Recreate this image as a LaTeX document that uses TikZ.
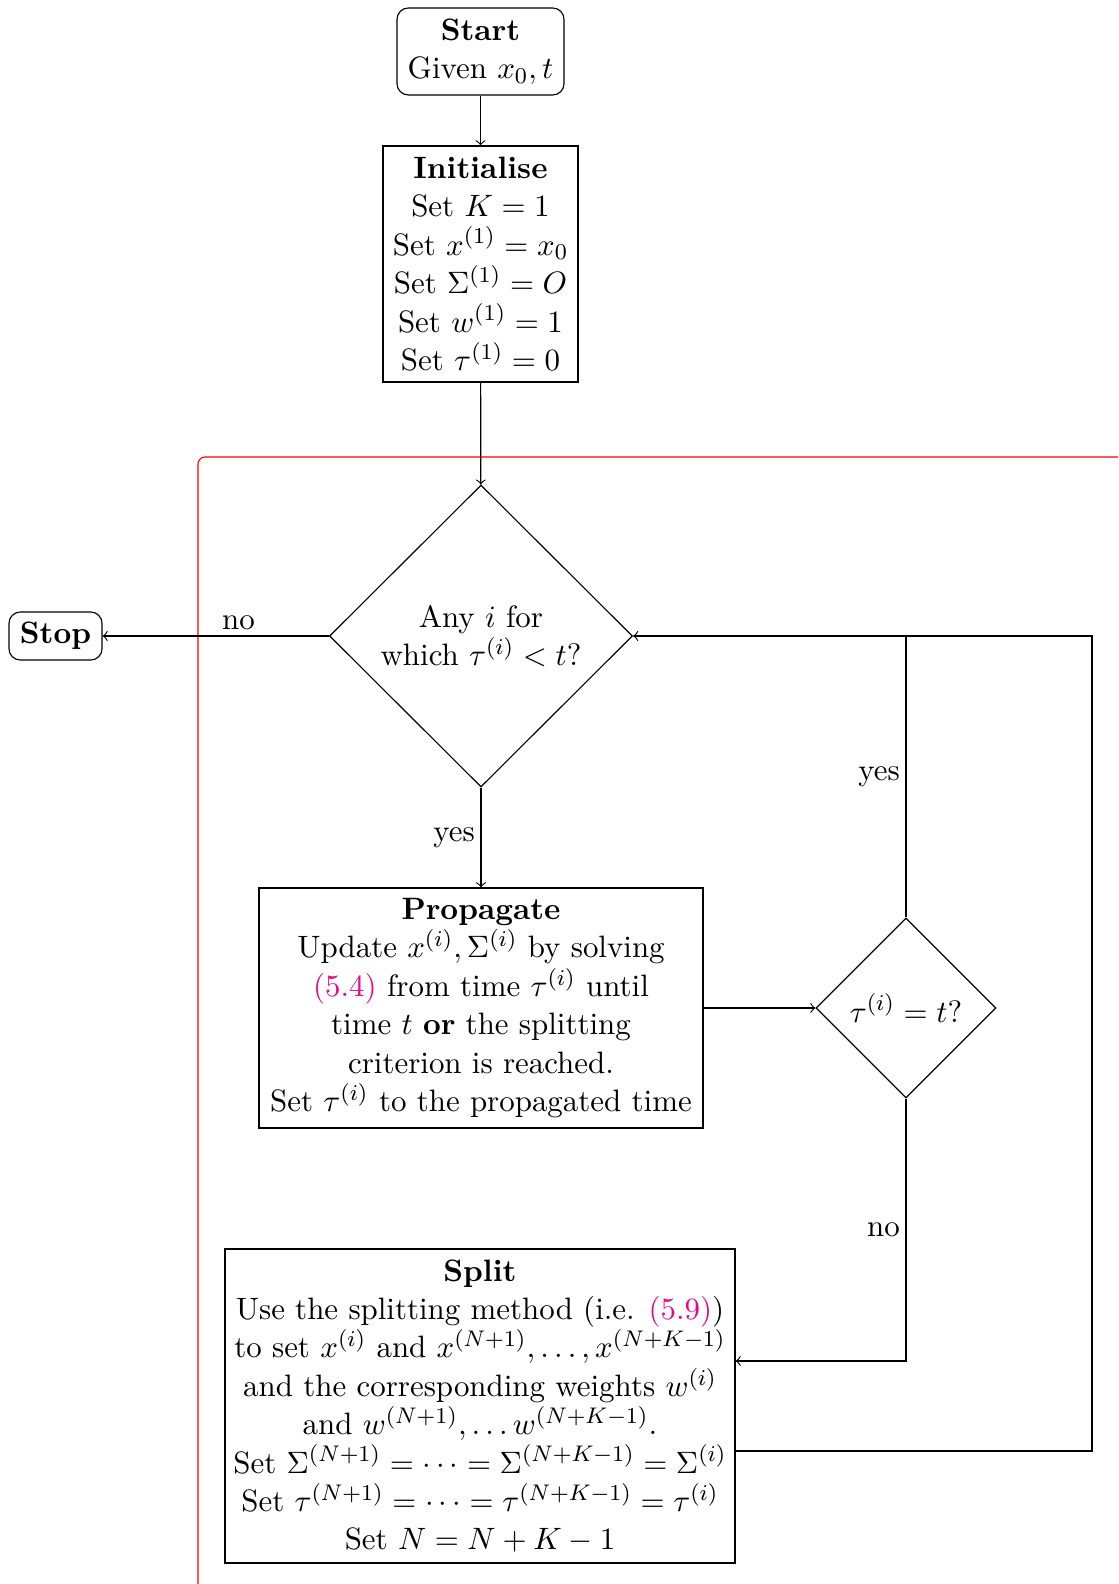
\documentclass[tikz,border=0pt,11pt]{standalone}
\usetikzlibrary{shapes.geometric,calc}
\definecolor{linkpink}{RGB}{230,10,135}
\begin{document}
\begin{tikzpicture}[x=0.3541pt,y=-0.3541pt,
  termbox/.style={draw,rounded corners=4pt,align=center,inner sep=1pt},
  procbox/.style={draw,rectangle,align=center,inner sep=1pt},
  decbox/.style={draw,diamond,aspect=1,align=center,inner sep=0pt},
  flow/.style={->,>=to},
  lbl/.style={inner sep=2pt}]
\useasboundingbox (0,0) rectangle (1118,1584);
\clip (0,0) rectangle (1118,1584);
% red loop frame
\draw[red,rounded corners=2.5pt] (1300,457) -- (198,457) -- (198,1700);
% nodes
\node[termbox,minimum width=167*0.3541pt,minimum height=87*0.3541pt] (start) at (480.5,51.5)
  {\textbf{Start}\\ Given $x_0,t$};
\node[procbox,minimum width=195*0.3541pt,minimum height=236*0.3541pt] (init) at (480.5,264)
  {\textbf{Initialise}\\ Set $K=1$\\ Set $x^{(1)}=x_0$\\ Set $\Sigma^{(1)}=O$\\ Set $w^{(1)}=1$\\ Set $\tau^{(1)}=0$};
\node[decbox,minimum width=303*0.3541pt,minimum height=302*0.3541pt] (any) at (481,636)
  {Any $i$ for\\ which $\tau^{(i)}<t$?};
\node[termbox,minimum width=93*0.3541pt,minimum height=48*0.3541pt] (stop) at (55.5,636)
  {\textbf{Stop}};
\node[procbox,minimum width=444*0.3541pt,minimum height=240*0.3541pt] (prop) at (481,1008)
  {\textbf{Propagate}\\ Update $x^{(i)},\Sigma^{(i)}$ by solving\\
   \textcolor{linkpink}{(5.4)} from time $\tau^{(i)}$ until\\
   time $t$ \textbf{or} the splitting\\ criterion is reached.\\
   Set $\tau^{(i)}$ to the propagated time};
\node[decbox,minimum width=180*0.3541pt,minimum height=180*0.3541pt] (eq) at (906,1008)
  {$\tau^{(i)}=t$?};
\node[procbox,minimum width=510*0.3541pt,minimum height=314*0.3541pt] (split) at (480,1406)
  {\textbf{Split}\\ Use the splitting method (i.e. \textcolor{linkpink}{(5.9)})\\
   to set $x^{(i)}$ and $x^{(N+1)},\ldots,x^{(N+K-1)}$\\
   and the corresponding weights $w^{(i)}$\\
   and $w^{(N+1)},\ldots w^{(N+K-1)}$.\\
   Set $\Sigma^{(N+1)}=\cdots=\Sigma^{(N+K-1)}=\Sigma^{(i)}$\\
   Set $\tau^{(N+1)}=\cdots=\tau^{(N+K-1)}=\tau^{(i)}$\\
   Set $N=N+K-1$};
% helper coordinates
\coordinate (join) at (906,636);
\coordinate (right) at (1092,636);
\coordinate (rightlow) at (1092,1451);
\coordinate (splitout) at ($(split.east)+(0,45)$);
\coordinate (splitin) at ($(split.east)+(0,-45)$);
\coordinate (eqlow) at (906,1361);
% connectors
\draw[flow] (start) -- (init);
\draw[flow] (init) -- (any);
\draw[flow] (any.west) -- node[pos=0.4,above,lbl] {no} (stop.east);
\draw[flow] (any.south) -- node[left,lbl] {yes} (prop.north);
\draw[flow] (prop.east) -- (eq.west);
\draw[flow] (eq.north) -- node[pos=0.5,left,lbl] {yes} (join) -- (any.east);
\draw[flow] (eq.south) -- node[left,lbl] {no} (eqlow) -- (splitin);
\draw (splitout) -- (rightlow) -- (right) -- (join);
\end{tikzpicture}
\end{document}
